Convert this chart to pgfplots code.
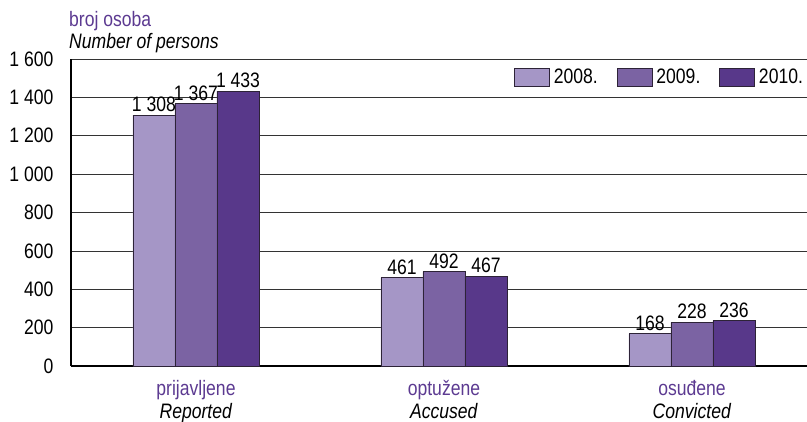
\documentclass[border=0pt]{standalone}
\usepackage{pgfplots}
\pgfplotsset{compat=1.18}
\usepackage{fontspec}
\setmainfont{Liberation Sans}[FakeStretch=0.84]
\definecolor{cA}{RGB}{165,150,198}
\definecolor{cB}{RGB}{123,99,163}
\definecolor{cC}{RGB}{88,56,138}
\definecolor{purp}{RGB}{92,58,145}
\definecolor{edge}{RGB}{45,35,55}
\newcommand\f{\fontsize{21}{23}\selectfont}
\begin{document}
\begin{tikzpicture}[font=\f]
\begin{axis}[
  scale only axis, width=739bp, height=307bp,
  xmin=-0.504, xmax=2.476, ymin=0, ymax=1600,
  axis x line*=bottom, axis y line*=left,
  x axis line style={line width=1.6bp, black},
  y axis line style={line width=1.2bp, black},
  ytick={0,200,...,1600},
  ymajorgrids, grid style={black!80, line width=0.7bp},
  major tick length=0pt,
  xtick={0,1,2},
  xticklabels={{\textcolor{purp}{prijavljene}\\\textit{Reported}},
               {\textcolor{purp}{optužene}\\\textit{Accused}},
               {\textcolor{purp}{osuđene}\\\textit{Convicted}}},
  xticklabel style={align=center, yshift=-11bp},
  yticklabel style={xshift=-14bp},
  /pgf/number format/assume math mode=true,
  /pgf/number format/1000 sep={\ },
  ybar, bar width=0.1694,
  nodes near coords,
  nodes near coords style={font=\f, inner sep=3bp, text=black},
  clip=false,
  legend columns=3,
  legend style={at={(rel axis cs:0.5995,0.941)}, anchor=west, draw=none, fill=none,
    inner sep=0pt, font=\f, nodes={inner xsep=4bp, inner ysep=0pt},
    /tikz/every even column/.append style={column sep=15bp}},
  legend image code/.code={\draw[#1] (0bp,-9bp) rectangle (35bp,9bp);},
]
\addplot[fill=cA, draw=edge, line width=0.6bp, bar shift=-0.1694] coordinates {(0,1308) (1,461) (2,168)};
\addplot[fill=cB, draw=edge, line width=0.6bp, bar shift=0] coordinates {(0,1367) (1,492) (2,228)};
\addplot[fill=cC, draw=edge, line width=0.6bp, bar shift=0.1694] coordinates {(0,1433) (1,467) (2,236)};
\legend{2008., 2009., 2010.}
\node[anchor=base west, text=purp, inner sep=0pt] at ([xshift=-2bp, yshift=32bp]rel axis cs:0,1) {broj osoba};
\node[anchor=base west, inner sep=0pt] at ([xshift=-2bp, yshift=10bp]rel axis cs:0,1) {\textit{Number of persons}};
\end{axis}
\pgfresetboundingbox
\useasboundingbox ([xshift=-71bp, yshift=-56bp]current axis.south west) rectangle ++(807bp,422bp);
\end{tikzpicture}
\end{document}
